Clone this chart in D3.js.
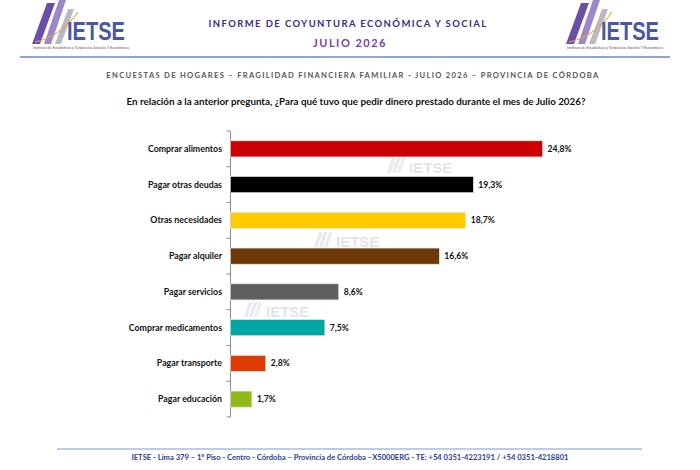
<!DOCTYPE html>
<html>
<head>
<meta charset="utf-8">
<script src="https://cdn.jsdelivr.net/npm/d3@7"></script>
<style>
  body { margin: 0; background: #fff; }
  svg { display: block; }
</style>
</head>
<body>
<div id="chart"></div>
<script>
const categories = ["Comprar alimentos", "Pagar otras deudas", "Otras necesidades", "Pagar alquiler",
  "Pagar servicios", "Comprar medicamentos", "Pagar transporte", "Pagar educación"];
const values = [24.8, 19.3, 18.7, 16.6, 8.6, 7.5, 2.8, 1.7];
const barColors = ["#cc0000", "#000000", "#ffcc00", "#6e3908", "#5f5f5f", "#00a6a1", "#dd3b06", "#8fba1a"];

const width = 700, height = 470;
const font = "Lato, 'Open Sans', sans-serif";

const svg = d3.select("#chart")
  .append("svg")
    .attr("width", width)
    .attr("height", height);

// logo (drawn twice, left and right)
function drawLogo(x0) {
  const g = svg.append("g").attr("transform", `translate(${x0},0)`);
  g.append("path").attr("d", "M0,44 L15,3 L23,3 L8,44 Z").attr("fill", "#6b4fa6");
  g.append("path").attr("d", "M12,44 L27,0 L34,0 L19,44 Z").attr("fill", "#9a88c8");
  g.append("path").attr("d", "M23,44 L36,9 L42,9 L29,44 Z").attr("fill", "#b9b9c2");
  g.append("path").attr("d", "M3,42 Q28,37 46,12").attr("fill", "none")
    .attr("stroke", "#f0a040").attr("stroke-width", 1.1);
  g.append("text")
    .attr("x", 35).attr("y", 40)
    .attr("textLength", 58).attr("lengthAdjust", "spacingAndGlyphs")
    .style("font-family", "'Liberation Sans', Arial, sans-serif")
    .style("font-weight", "bold").style("font-size", "25px")
    .attr("fill", "#4a57a6")
    .text("IETSE");
  g.append("text")
    .attr("x", 1).attr("y", 49)
    .attr("textLength", 96).attr("lengthAdjust", "spacingAndGlyphs")
    .style("font-family", font).style("font-size", "3.8px")
    .attr("fill", "#555")
    .text("Instituto de Estadísticas y Tendencias Sociales Y Económicas");
}
drawLogo(32);
drawLogo(566);

svg.append("text")
  .attr("x", 348).attr("y", 27)
  .attr("text-anchor", "middle")
  .style("font-family", font).style("font-weight", "bold")
  .style("font-size", "9.5px").style("letter-spacing", "1.4px")
  .attr("fill", "#3d2a8c")
  .text("INFORME DE COYUNTURA ECONÓMICA Y SOCIAL");

svg.append("text")
  .attr("x", 350).attr("y", 47)
  .attr("text-anchor", "middle")
  .style("font-family", font).style("font-weight", "bold")
  .style("font-size", "11px").style("letter-spacing", "1.5px")
  .attr("fill", "#7a3fa8")
  .text("JULIO 2026");

svg.append("line")
  .attr("x1", 20).attr("x2", 670).attr("y1", 57).attr("y2", 57)
  .attr("stroke", "#8fa6d8").attr("stroke-width", 2);

svg.append("text")
  .attr("x", 353).attr("y", 78)
  .attr("text-anchor", "middle")
  .style("font-family", font).style("font-weight", "bold")
  .style("font-size", "7.6px").style("letter-spacing", "1.3px")
  .attr("fill", "#555")
  .text("ENCUESTAS DE HOGARES – FRAGILIDAD FINANCIERA FAMILIAR - JULIO 2026 – PROVINCIA DE CÓRDOBA");

svg.append("text")
  .attr("x", 356).attr("y", 105)
  .attr("text-anchor", "middle")
  .style("font-family", font).style("font-weight", "bold")
  .style("font-size", "9.8px")
  .attr("fill", "#111")
  .text("En relación a la anterior pregunta, ¿Para qué tuvo que pedir dinero prestado durante el mes de Julio 2026?");

// watermarks
function watermark(x, y) {
  const g = svg.append("g").attr("transform", `translate(${x},${y})`).attr("opacity", 0.45);
  [0, 5, 10].forEach((d, i) => {
    g.append("path").attr("d", `M${d},0 L${d + 5},-15 L${d + 8.5},-15 L${d + 3.5},0 Z`)
      .attr("fill", i == 2 ? "#d8d8dc" : "#cfcbe0");
  });
  g.append("text").attr("x", 22).attr("y", 0)
    .style("font-family", "'Liberation Sans', Arial, sans-serif")
    .style("font-weight", "bold").style("font-size", "15px")
    .attr("fill", "#c3c3cf")
    .text("IETSE");
}
watermark(387, 173);
watermark(314, 247);
watermark(244, 317);

// scales
const x = d3.scaleLinear()
  .domain([0, 30])
  .range([230.5, 607.9]);

const y = d3.scaleBand()
  .domain(categories)
  .range([131, 417])
  .paddingInner(0.55)
  .paddingOuter(0.275);

// axis with ticks between the categories
const bounds = d3.range(categories.length + 1).map(i => y.range()[0] + i * y.step());
const axis = svg.append("g").attr("stroke", "#8a8a8a");
axis.append("line")
  .attr("x1", x(0)).attr("x2", x(0))
  .attr("y1", bounds[0]).attr("y2", bounds[bounds.length - 1]);
axis.selectAll(".tick")
  .data(bounds)
  .join("line")
    .attr("x1", x(0) - 4).attr("x2", x(0))
    .attr("y1", d => d).attr("y2", d => d);

// bars
svg.selectAll(".bar")
  .data(categories)
  .join("rect")
    .attr("class", "bar")
    .attr("x", x(0))
    .attr("y", d => y(d))
    .attr("width", (d, i) => x(values[i]) - x(0))
    .attr("height", y.bandwidth())
    .attr("fill", (d, i) => barColors[i])
    .attr("stroke", "#e8e8e8")
    .attr("stroke-width", 0.6);

// category labels
svg.selectAll(".cat")
  .data(categories)
  .join("text")
    .attr("x", 222)
    .attr("y", d => y(d) + y.bandwidth() / 2 + 3)
    .attr("text-anchor", "end")
    .style("font-family", font).style("font-weight", "bold")
    .style("font-size", "8.8px")
    .attr("fill", "#111")
    .text(d => d);

// value labels
svg.selectAll(".val")
  .data(values)
  .join("text")
    .attr("x", d => x(d) + 5)
    .attr("y", (d, i) => y(categories[i]) + y.bandwidth() / 2 + 3)
    .style("font-family", font).style("font-weight", "bold")
    .style("font-size", "8.6px")
    .attr("fill", "#111")
    .text(d => d3.format(".1f")(d).replace(".", ",") + "%");

// footer
svg.append("line")
  .attr("x1", 57).attr("x2", 642).attr("y1", 449).attr("y2", 449)
  .attr("stroke", "#a9bbe3").attr("stroke-width", 1.6);

svg.append("text")
  .attr("x", 350).attr("y", 460)
  .attr("text-anchor", "middle")
  .style("font-family", font).style("font-weight", "bold")
  .style("font-size", "7.6px")
  .attr("fill", "#2c3a9c")
  .text("IETSE - Lima 379 – 1º Piso - Centro - Córdoba – Provincia de Córdoba –X5000ERG - TE: +54 0351-4223191 / +54 0351-4218801");
</script>
</body>
</html>
